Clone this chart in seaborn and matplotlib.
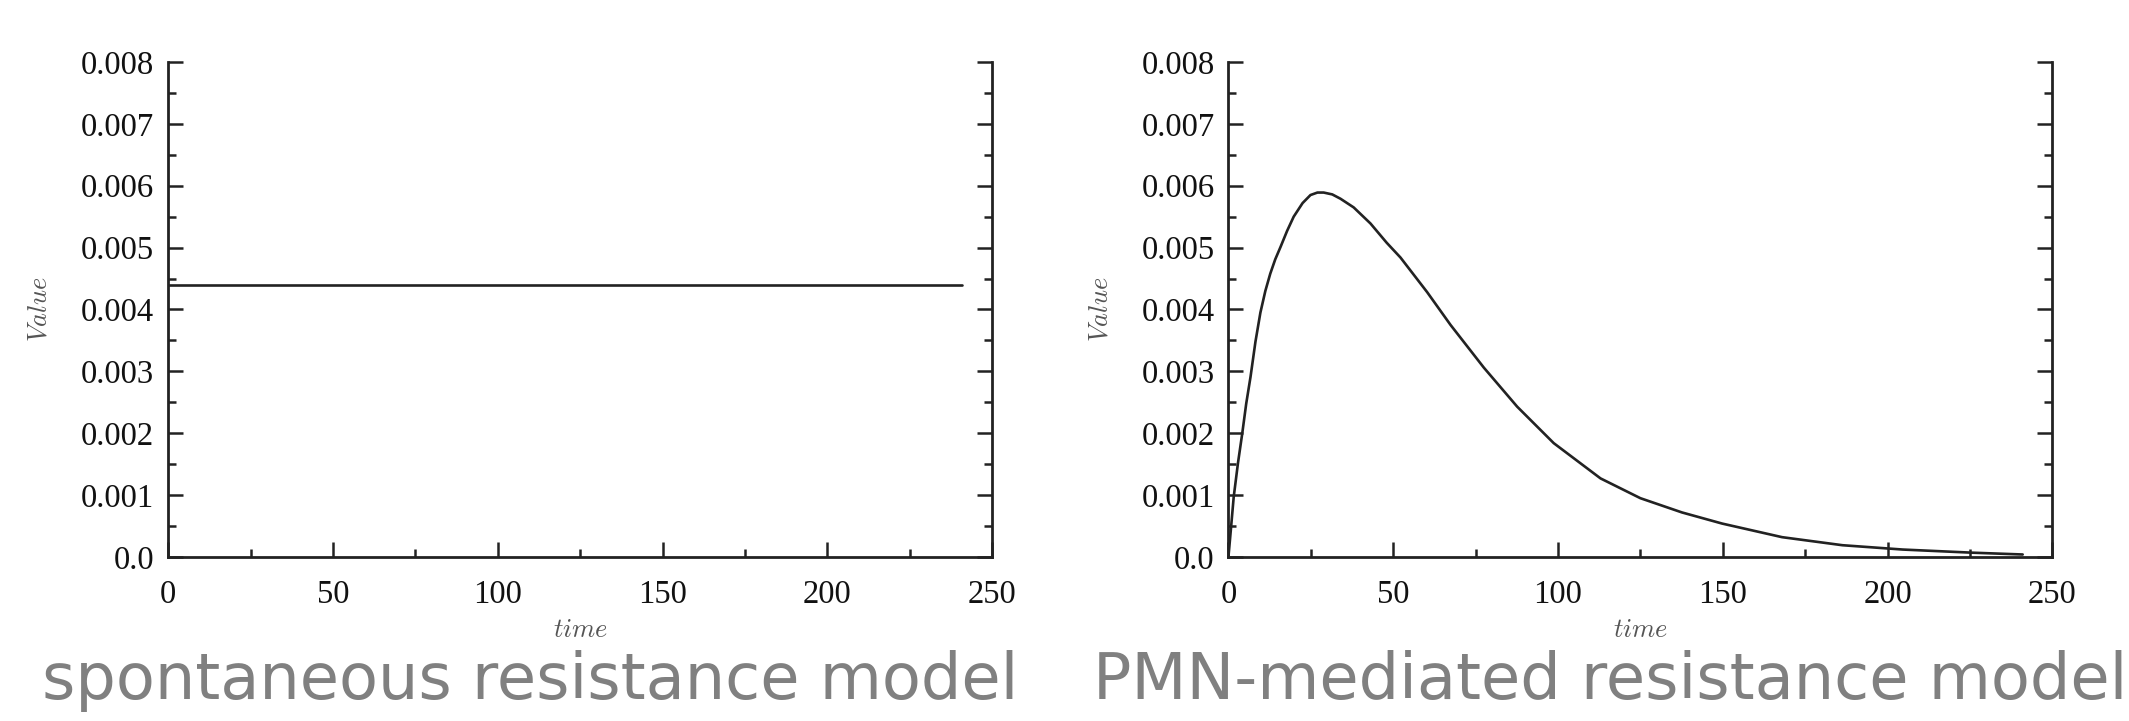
import matplotlib
matplotlib.use("Agg")
import matplotlib.pyplot as plt
from matplotlib.ticker import MultipleLocator
import seaborn as sns
import pandas as pd

# spontaneous resistance model: flat line
t_spont = [0, 241]
v_spont = [0.0044, 0.0044]

# PMN-mediated resistance model: rise then decay
t_pmn = [0, 0.7, 1.6, 2.9, 4.2, 5.4, 6.7, 8.2, 9.7, 11.2, 12.7, 14.2, 15.8,
         17.8, 19.8, 22.5, 24.9, 27.0, 28.9, 31.5, 34.0, 38.0, 43.1, 48.0,
         52.2, 60.3, 67.4, 77.5, 87.6, 98.7, 112.9, 125.0, 137.6, 149.8,
         168.0, 186.3, 204.6, 225.4, 241.0]
v_pmn = [0.0, 0.00042, 0.00097, 0.00152, 0.0020, 0.00248, 0.00291, 0.00348,
         0.00395, 0.00430, 0.00458, 0.00481, 0.00501, 0.00527, 0.0055,
         0.00572, 0.00585, 0.00589, 0.00589, 0.00586, 0.00579, 0.00565,
         0.00539, 0.00508, 0.00484, 0.00428, 0.00375, 0.00306, 0.00243,
         0.00184, 0.00127, 0.00095, 0.00072, 0.00054, 0.00032, 0.00019,
         0.00012, 0.00007, 0.00004]

y_ticks = [0.0, 0.001, 0.002, 0.003, 0.004, 0.005, 0.006, 0.007, 0.008]
y_labels = ["0.0", "0.001", "0.002", "0.003", "0.004", "0.005", "0.006", "0.007", "0.008"]
x_ticks = [0, 50, 100, 150, 200, 250]
captions = ["spontaneous resistance model", "PMN-mediated resistance model"]

sns.set_style("ticks")
plt.rcParams["font.family"] = ["Liberation Serif", "DejaVu Serif"]
plt.rcParams["mathtext.fontset"] = "cm"

fig = plt.figure(figsize=(21.29, 7.21), dpi=100)
ax1 = fig.add_axes([0.079, 0.2275, 0.387, 0.6865])
ax2 = fig.add_axes([0.577, 0.2275, 0.387, 0.6865])

series = [(t_spont, v_spont), (t_pmn, v_pmn)]
for ax, (tt, vv) in zip([ax1, ax2], series):
    df = pd.DataFrame({"time": tt, "Value": vv})
    sns.lineplot(data=df, x="time", y="Value", ax=ax, color="#222222",
                 linewidth=1.9, estimator=None, sort=False)
    ax.set_xlim(0, 250)
    ax.set_ylim(0, 0.008)
    ax.set_xticks(x_ticks)
    ax.set_yticks(y_ticks)
    ax.set_yticklabels(y_labels)
    ax.xaxis.set_minor_locator(MultipleLocator(25))
    ax.yaxis.set_minor_locator(MultipleLocator(0.0005))
    ax.spines["top"].set_visible(False)
    for s in ["left", "right", "bottom"]:
        ax.spines[s].set_linewidth(2.0)
        ax.spines[s].set_color("#222222")
    ax.tick_params(axis="both", which="both", direction="in", color="#222222",
                   width=1.8, labelsize=23.5, labelcolor="#111111")
    ax.tick_params(axis="y", which="both", right=True, left=True)
    ax.tick_params(axis="x", which="both", top=False)
    ax.tick_params(which="major", length=11)
    ax.tick_params(which="minor", length=6)
    ax.tick_params(axis="x", pad=16)
    ax.tick_params(axis="y", pad=10)
    ax.set_xlabel(r"$time$", fontsize=19, color="#555555")
    ax.set_ylabel(r"$Value$", fontsize=19, color="#555555")
    ax.xaxis.set_label_coords(0.5, -0.15)
    ax.xaxis.label.set_va("center")
    ax.yaxis.set_label_coords(-0.155, 0.5)
    ax.yaxis.label.set_va("center")

fig.text(530 / 2129, 0.0305, captions[0], fontsize=46, color="#808080",
         ha="center", va="baseline", family="DejaVu Sans")
fig.text(1610 / 2129, 0.0305, captions[1], fontsize=46, color="#808080",
         ha="center", va="baseline", family="DejaVu Sans")

fig.savefig("out.png", dpi=100, facecolor="white")
